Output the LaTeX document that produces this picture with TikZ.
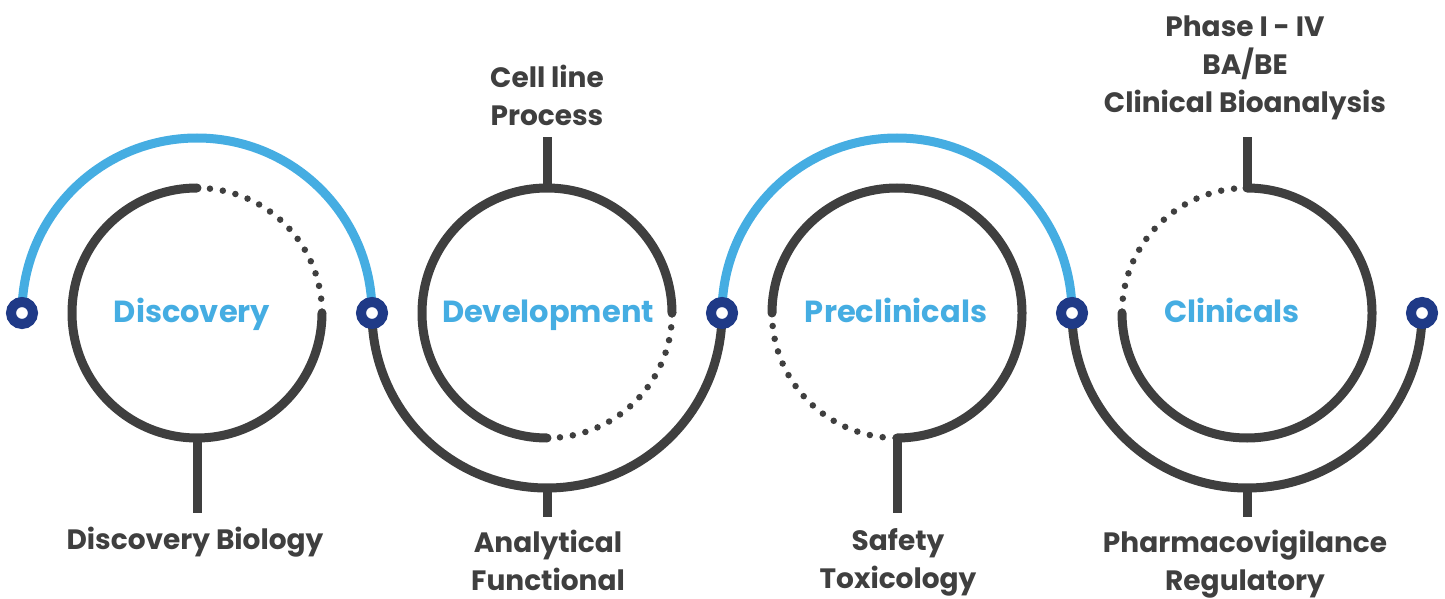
\documentclass[tikz,border=0pt]{standalone}
\usepackage{fontspec}
\setmainfont{Poppins}
\definecolor{arcblue}{HTML}{45ADE2}
\definecolor{arcgray}{HTML}{3F3F3F}
\definecolor{dotnavy}{HTML}{1F3A87}
\begin{document}
\begin{tikzpicture}[x=1pt,y=1pt,
  bluearc/.style={draw=arcblue,line width=9pt},
  grayarc/.style={draw=arcgray,line width=9pt},
  solidring/.style={draw=arcgray,line width=9pt,line cap=round},
  dotring/.style={draw=arcgray,line width=6.5pt,line cap=round,dash pattern=on 0pt off 13pt},
  stem/.style={draw=arcgray,line width=9pt,line cap=butt},
  joint/.style={circle,draw=dotnavy,fill=white,line width=10pt,minimum size=22pt,inner sep=0pt},
  title/.style={text=arcblue,font=\fontsize{30.5}{36}\selectfont\bfseries,anchor=base},
  label/.style={text=arcgray,font=\fontsize{28}{38}\selectfont\bfseries,align=center,anchor=base}]
\useasboundingbox (0,0) rectangle (1445,598);
% joints
\coordinate (j1) at (22,285);
\coordinate (j2) at (372,285);
\coordinate (j3) at (722,285);
\coordinate (j4) at (1072,285);
\coordinate (j5) at (1422,285);
% big arcs
\draw[bluearc] (j1) arc[start angle=180,end angle=0,radius=175];
\draw[grayarc] (j2) arc[start angle=180,end angle=360,radius=175];
\draw[bluearc] (j3) arc[start angle=180,end angle=0,radius=175];
\draw[grayarc] (j4) arc[start angle=180,end angle=360,radius=175];
% inner rings
\draw[solidring] (322,285) arc[start angle=0,end angle=-270,radius=125];
\draw[dotring] (197,410) arc[start angle=90,end angle=0,radius=125];
\draw[solidring] (672,285) arc[start angle=0,end angle=270,radius=125];
\draw[dotring] (547,160) arc[start angle=-90,end angle=0,radius=125];
\draw[solidring] (897,160) arc[start angle=-90,end angle=180,radius=125];
\draw[dotring] (772,285) arc[start angle=180,end angle=270,radius=125];
\draw[solidring] (1122,285) arc[start angle=180,end angle=450,radius=125];
\draw[dotring] (1247,410) arc[start angle=90,end angle=180,radius=125];
% stems
\coordinate (s1a) at (197,160); \coordinate (s1b) at (197,85);
\coordinate (s2a) at (547,410); \coordinate (s2b) at (547,461);
\coordinate (s2c) at (547,110); \coordinate (s2d) at (547,81);
\coordinate (s3a) at (897,160); \coordinate (s3b) at (897,85);
\coordinate (s4a) at (1247,410); \coordinate (s4b) at (1247,461);
\coordinate (s4c) at (1247,110); \coordinate (s4d) at (1247,81);
\draw[stem] (s1a) -- (s1b);
\draw[stem] (s2a) -- (s2b);
\draw[stem] (s2c) -- (s2d);
\draw[stem] (s3a) -- (s3b);
\draw[stem] (s4a) -- (s4b);
\draw[stem] (s4c) -- (s4d);
% joint markers
\node[joint] (n1) at (j1) {};
\node[joint] (n2) at (j2) {};
\node[joint] (n3) at (j3) {};
\node[joint] (n4) at (j4) {};
\node[joint] (n5) at (j5) {};
% titles
\node[title] (t1) at (192,276) {Discovery};
\node[title] (t2) at (548,276) {Development};
\node[title] (t3) at (896,276) {Preclinicals};
\node[title] (t4) at (1232,276) {Clinicals};
% labels (base = baseline of last line)
\node[label] (l1) at (195,49) {Discovery Biology};
\node[label] (l2) at (548,8) {Analytical\\Functional};
\node[label] (l3) at (898,10) {Safety\\Toxicology};
\node[label] (l4) at (1245,8) {Pharmacovigilance\\Regulatory};
\node[label] (l5) at (547,472) {Cell line\\Process};
\node[label] (l6) at (1245,485) {Phase I - IV\\BA/BE\\Clinical Bioanalysis};
\end{tikzpicture}
\end{document}
